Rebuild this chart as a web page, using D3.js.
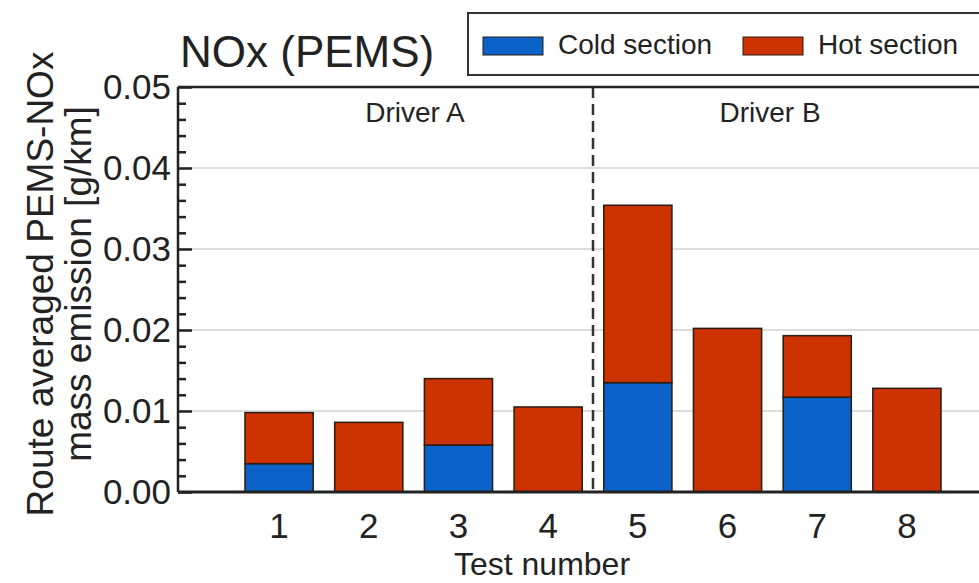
<!DOCTYPE html>
<html lang="en">
<head>
    <meta charset="UTF-8">
    <script type="text/javascript" src="https://cdn.jsdelivr.net/npm/d3@7/dist/d3.min.js"></script>
    <title>NOx (PEMS)</title>
    <style>
        body { margin: 0; background: #fff; }
        svg { display: block; font-family: "Liberation Sans", Arial, sans-serif; }
    </style>
</head>
<body>
<script type="text/javascript">
    // data
    var tests = ["1", "2", "3", "4", "5", "6", "7", "8"];
    var cold = [0.0035, 0, 0.0058, 0, 0.0135, 0, 0.0117, 0];
    var total = [0.0098, 0.0086, 0.0140, 0.0105, 0.0354, 0.0202, 0.0193, 0.0128];
    var hot = total.map(function(t, i){ return t - cold[i]; });
    var yTicks = [0, 0.01, 0.02, 0.03, 0.04, 0.05];
    var drivers = ["Driver A", "Driver B"];
    var seriesNames = ["Cold section", "Hot section"];
    var colors = ["#0b63c9", "#cc3300"];

    var W = 979, H = 583;
    var pLeft = 178, pRight = 1008, pTop = 87, pBottom = 492;

    var svg = d3.select("body").append("svg")
            .attr("width", W).attr("height", H);

    var x = d3.scaleBand().domain(tests).range([pLeft, pRight])
            .paddingInner(0.24).paddingOuter(0.747);
    var y = d3.scaleLinear().domain([0, 0.05]).range([pBottom, pTop]);

    // gridlines
    svg.selectAll("line.grid")
            .data(yTicks.slice(1, -1))
            .enter().append("line")
            .attr("class", "grid")
            .attr("x1", pLeft).attr("x2", pRight)
            .attr("y1", function(d){ return y(d); })
            .attr("y2", function(d){ return y(d); })
            .attr("stroke", "#dcdcdc").attr("stroke-width", 2);

    // stacked bars
    var rows = tests.map(function(t, i){ return {test: t, cold: cold[i], hot: hot[i]}; });
    var stack = d3.stack().keys(["cold", "hot"])(rows);
    svg.selectAll("g.layer")
            .data(stack)
            .enter().append("g")
            .attr("fill", function(d, i){ return colors[i]; })
            .selectAll("rect")
            .data(function(d){ return d.filter(function(s){ return s[1] - s[0] > 0; }); })
            .enter().append("rect")
            .attr("x", function(d){ return x(d.data.test); })
            .attr("width", x.bandwidth())
            .attr("y", function(d){ return y(d[1]); })
            .attr("height", function(d){ return y(d[0]) - y(d[1]); })
            .attr("stroke", "#2a1a10").attr("stroke-width", 1.5);

    // dashed separator between drivers
    var sep = (x("4") + x.bandwidth() + x("5")) / 2;
    svg.append("line")
            .attr("x1", sep).attr("x2", sep)
            .attr("y1", pTop).attr("y2", pBottom)
            .attr("stroke", "#333").attr("stroke-width", 2.5)
            .attr("stroke-dasharray", "11,6");

    // driver labels
    var driverX = [415, 770];
    svg.selectAll("text.driver")
            .data(drivers)
            .enter().append("text")
            .attr("x", function(d, i){ return driverX[i]; })
            .attr("y", 122)
            .attr("text-anchor", "middle")
            .attr("font-size", 28)
            .attr("fill", "#222")
            .text(function(d){ return d; });

    // y axis, ticks inward, with minor ticks
    var yAxis = d3.axisRight(y).tickValues(yTicks).tickSize(14).tickFormat("");
    svg.append("g").attr("transform", "translate(" + pLeft + ",0)").call(yAxis)
            .call(function(g){ g.select(".domain").remove(); })
            .selectAll("line").attr("stroke", "#222").attr("stroke-width", 2.5);
    var minor = d3.range(0.002, 0.05, 0.002).filter(function(v){ return Math.round(v * 1000) % 10 !== 0; });
    svg.append("g").attr("transform", "translate(" + pLeft + ",0)")
            .call(d3.axisRight(y).tickValues(minor).tickSize(8).tickFormat(""))
            .call(function(g){ g.select(".domain").remove(); })
            .selectAll("line").attr("stroke", "#222").attr("stroke-width", 2.5);

    svg.selectAll("text.ytick")
            .data(yTicks)
            .enter().append("text")
            .attr("x", 171)
            .attr("y", function(d){ return y(d) + 12; })
            .attr("text-anchor", "end")
            .attr("font-size", 35)
            .attr("fill", "#222")
            .text(d3.format(".2f"));

    // frame lines
    svg.append("line").attr("x1", pLeft).attr("x2", pLeft).attr("y1", pTop).attr("y2", pBottom)
            .attr("stroke", "#222").attr("stroke-width", 2.5);
    svg.append("line").attr("x1", pLeft).attr("x2", pRight).attr("y1", pTop).attr("y2", pTop)
            .attr("stroke", "#222").attr("stroke-width", 2.5);
    svg.append("line").attr("x1", pLeft).attr("x2", pRight).attr("y1", pBottom).attr("y2", pBottom)
            .attr("stroke", "#222").attr("stroke-width", 3);

    // x tick labels
    svg.selectAll("text.xtick")
            .data(tests)
            .enter().append("text")
            .attr("x", function(d){ return x(d) + x.bandwidth() / 2; })
            .attr("y", 538)
            .attr("text-anchor", "middle")
            .attr("font-size", 35)
            .attr("fill", "#222")
            .text(function(d){ return d; });

    svg.append("text")
            .attr("x", 542).attr("y", 575)
            .attr("text-anchor", "middle")
            .attr("font-size", 32)
            .attr("fill", "#222")
            .text("Test number");

    // y label (two lines)
    var yl = svg.append("text")
            .attr("transform", "translate(0,284) rotate(-90)")
            .attr("text-anchor", "middle")
            .attr("font-size", 37)
            .attr("fill", "#222");
    yl.append("tspan").attr("x", 0).attr("y", 53).text("Route averaged PEMS-NOx");
    yl.append("tspan").attr("x", 0).attr("y", 91).text("mass emission [g/km]");

    // title
    svg.append("text")
            .attr("x", 180).attr("y", 67)
            .attr("font-size", 44)
            .attr("fill", "#222")
            .text("NOx (PEMS)");

    // legend
    svg.append("rect")
            .attr("x", 468).attr("y", 13).attr("width", 530).attr("height", 62)
            .attr("fill", "#fff").attr("stroke", "#333").attr("stroke-width", 2);
    var legX = [483, 743];
    var leg = svg.selectAll("g.leg")
            .data(seriesNames)
            .enter().append("g")
            .attr("transform", function(d, i){ return "translate(" + legX[i] + ",0)"; });
    leg.append("rect")
            .attr("y", 37).attr("width", 60).attr("height", 18)
            .attr("fill", function(d, i){ return colors[i]; })
            .attr("stroke", "#2a1a10").attr("stroke-width", 1);
    leg.append("text")
            .attr("x", 75).attr("y", 54)
            .attr("font-size", 28)
            .attr("fill", "#222")
            .text(function(d){ return d; });
</script>
</body>
</html>
